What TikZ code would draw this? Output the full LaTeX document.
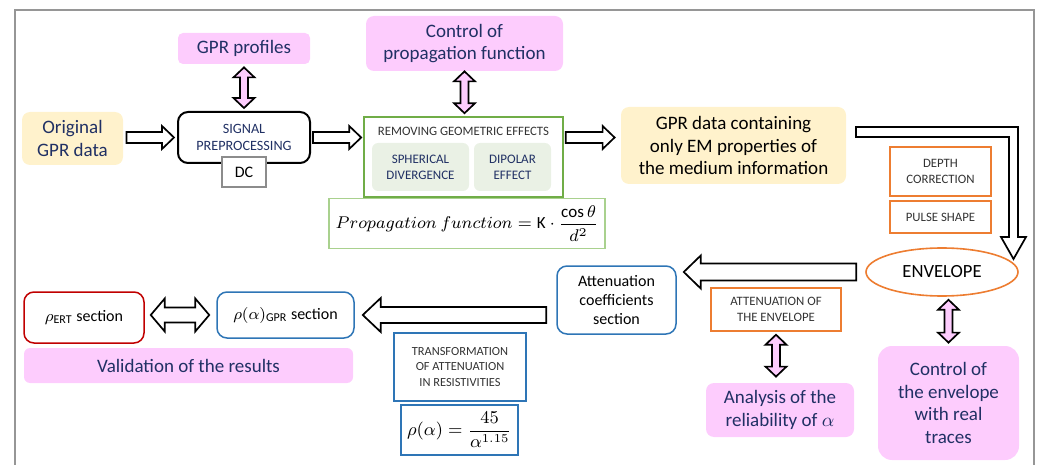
\documentclass[tikz,border=0pt]{standalone}
\usepackage{fix-cm}
\usepackage{amsmath}
\usepackage{fontspec}
\setmainfont{Carlito}
\usetikzlibrary{calc,shapes.geometric}

\definecolor{pinkfill}{RGB}{253,204,253}
\definecolor{sandfill}{RGB}{255,242,204}
\definecolor{navytext}{RGB}{32,48,100}
\definecolor{leafgreen}{RGB}{112,173,71}
\definecolor{palegreen}{RGB}{169,209,142}
\definecolor{mintfill}{RGB}{234,241,229}
\definecolor{tangerine}{RGB}{237,125,49}
\definecolor{steelblue}{RGB}{46,117,182}
\definecolor{darkred}{RGB}{192,0,0}
\definecolor{framegray}{RGB}{150,150,150}

\tikzset{
  big/.style={font=\fontsize{9.5}{11.3}\selectfont, align=center, inner sep=1pt},
  mid/.style={font=\fontsize{8}{9.5}\selectfont, align=center, inner sep=1pt},
  caps/.style={font=\fontsize{6.4}{8}\selectfont, align=center, inner sep=1pt, text=black!80},
  pinkbox/.style={big, fill=pinkfill, text=navytext, rounded corners=2.5pt},
  sandbox/.style={big, fill=sandfill, text=navytext, rounded corners=4pt},
  orangebox/.style={caps, draw=tangerine, line width=0.75pt, minimum width=50.5pt},
  bluebox/.style={mid, draw=steelblue, line width=0.75pt, rounded corners=5pt},
  % block arrows: shaft half width, head half width, head length
  hollow/.style n args={3}{draw=black, fill=white, line width=0.85pt, line join=miter,
    to path={let \p1=(\tikztostart), \p2=(\tikztotarget),
      \n1={atan2(\y2-\y1,\x2-\x1)} in
      ($(\p1)+({\n1+90}:#1)$) -- ($(\p2)+({\n1+180}:#3)+({\n1+90}:#1)$)
      -- ($(\p2)+({\n1+180}:#3)+({\n1+90}:#2)$) -- (\p2)
      -- ($(\p2)+({\n1+180}:#3)+({\n1-90}:#2)$)
      -- ($(\p2)+({\n1+180}:#3)+({\n1-90}:#1)$)
      -- ($(\p1)+({\n1-90}:#1)$) -- cycle}},
  hollowboth/.style n args={3}{draw=black, fill=white, line width=0.85pt, line join=miter,
    to path={let \p1=(\tikztostart), \p2=(\tikztotarget),
      \n1={atan2(\y2-\y1,\x2-\x1)} in
      (\p1) -- ($(\p1)+({\n1}:#3)+({\n1+90}:#2)$)
      -- ($(\p1)+({\n1}:#3)+({\n1+90}:#1)$)
      -- ($(\p2)+({\n1+180}:#3)+({\n1+90}:#1)$)
      -- ($(\p2)+({\n1+180}:#3)+({\n1+90}:#2)$) -- (\p2)
      -- ($(\p2)+({\n1+180}:#3)+({\n1-90}:#2)$)
      -- ($(\p2)+({\n1+180}:#3)+({\n1-90}:#1)$)
      -- ($(\p1)+({\n1}:#3)+({\n1-90}:#1)$)
      -- ($(\p1)+({\n1}:#3)+({\n1-90}:#2)$) -- cycle}},
}

\begin{document}
\begin{tikzpicture}[x=0.5pt,y=-0.5pt]
    \useasboundingbox (0,0) rectangle (1040,465);
    \draw[framegray,line width=0.8pt] (15,465) -- (15,10) -- (1034,10) -- (1034,465);

    % top row
    \node[sandbox,minimum width=50.5pt,minimum height=26.5pt] (orig) at (72.5,138.5) {Original\\GPR data};
    \node[draw=black,line width=1pt,rounded corners=5pt,minimum width=66pt,minimum height=25.5pt,
          font=\fontsize{7.1}{8.7}\selectfont,text=navytext,align=center] (sig) at (244,137.5) {SIGNAL\\PREPROCESSING};
    \node[draw=black!45,fill=white,line width=0.6pt,minimum width=22pt,minimum height=15pt,mid] (dc) at (244,172) {DC};
    \node[pinkbox,minimum width=66pt,minimum height=15.5pt] (prof) at (244,48.5) {GPR profiles};

    \node[pinkbox,rounded corners=4pt,minimum width=98.5pt,minimum height=27.5pt] (ctrlprop) at (464.5,43.5) {Control of\\propagation function};
    \node[draw=leafgreen,line width=0.8pt,minimum width=99.5pt,minimum height=40pt] (remv) at (463.5,157) {};
    \node[caps] (remvlbl) at (463.5,131) {REMOVING GEOMETRIC EFFECTS};
    \node[fill=mintfill,rounded corners=3pt,minimum width=48.5pt,minimum height=24pt,
          font=\fontsize{6.5}{8}\selectfont,text=navytext,align=center] (sph) at (420.5,167) {SPHERICAL\\DIVERGENCE};
    \node[fill=mintfill,rounded corners=3pt,minimum width=38.5pt,minimum height=24pt,
          font=\fontsize{6.5}{8}\selectfont,text=navytext,align=center] (dip) at (512.5,167) {DIPOLAR\\EFFECT};
    \node[draw=palegreen,line width=0.6pt,minimum width=135pt,minimum height=24.5pt,font=\fontsize{8.5}{10}\selectfont]
          (propf) at (467,223.5) {$Propagation\ function=\mathrm{K}\cdot\dfrac{\cos\theta}{d^2}$};

    \node[sandbox,text=black,minimum width=112.5pt,minimum height=38.5pt] (gprem) at (733.5,145.5)
          {GPR data containing\\only EM properties of\\the medium information};

    % right column
    \node[orangebox,minimum height=24.5pt] (depth) at (940.5,171.5) {DEPTH\\CORRECTION};
    \node[orangebox,minimum height=16pt] (pulse) at (940.5,217) {PULSE SHAPE};
    \node[ellipse,draw=tangerine,line width=0.8pt,minimum width=76pt,minimum height=24pt,inner sep=0pt,
          font=\fontsize{9.3}{11}\selectfont] (env) at (942,272) {ENVELOPE};
    \node[pinkbox,rounded corners=7pt,minimum width=70.5pt,minimum height=57pt] (ctrlenv) at (948.5,403)
          {Control of\\the envelope\\with real\\traces};

    % bottom row
    \node[bluebox,minimum width=59.5pt,minimum height=34pt] (attc) at (616.5,300) {Attenuation\\coefficients\\section};
    \node[orangebox,minimum width=65pt,minimum height=21.5pt] (attenv) at (776,309.5) {ATTENUATION OF\\THE ENVELOPE};
    \node[pinkbox,rounded corners=4pt,minimum width=74pt,minimum height=27pt] (analysis) at (780,410)
          {Analysis of the\\reliability of $\alpha$};

    \node[bluebox,minimum width=66pt,minimum height=34pt,font=\fontsize{6.2}{7.8}\selectfont,text=black!80,rounded corners=0pt]
          (transf) at (460,367) {TRANSFORMATION\\OF ATTENUATION\\IN RESISTIVITIES};
    \node[bluebox,minimum width=58.5pt,minimum height=25pt,rounded corners=0pt,font=\fontsize{9}{11}\selectfont]
          (rhof) at (459.5,430) {$\rho(\alpha)=\dfrac{45}{\alpha^{1.15}}$};

    \node[bluebox,minimum width=68.5pt,minimum height=23pt] (rgpr) at (285.5,315) {$\rho(\alpha)_{\text{GPR}}$ section};
    \node[mid,draw=darkred,line width=0.75pt,rounded corners=5pt,minimum width=60pt,minimum height=25.5pt]
          (ert) at (84,317.5) {$\rho_{\text{ERT}}$ section};
    \node[pinkbox,rounded corners=3pt,minimum width=164.5pt,minimum height=17.5pt] (valid) at (188.5,365.5)
          {Validation of the results};

    % block arrows
    \draw[hollow={2.75pt}{5.75pt}{6pt}] ([xshift=1.5pt]orig.east |- sig.west) to ([xshift=-1.5pt]sig.west);
    \draw[hollow={2.75pt}{5.75pt}{6pt}] ([xshift=1pt]sig.east) to ([xshift=-1pt]sig.east -| remv.west);
    \draw[hollow={2.75pt}{5.75pt}{6pt}] ([xshift=1pt]sig.east -| remv.east) to ([xshift=-3pt]sig.east -| gprem.west);
    \draw[black,fill=white,line width=0.85pt,line join=miter]
        (856,127) -- (1018,127) -- (1018,237) -- (1026,237) -- (1013.5,259)
        -- (1001,237) -- (1009,237) -- (1009,137) -- (856,137) -- cycle;
    \draw[hollow={4.25pt}{8.25pt}{8.5pt}] ([xshift=-4.5pt]env.west) to ([xshift=3.5pt]attc.east |- env.west);
    \draw[hollow={4pt}{8.5pt}{9pt}] ([xshift=-5pt]attc.west |- rgpr.east) to ([xshift=4pt]rgpr.east);
    \draw[hollowboth={3.75pt}{8.25pt}{7pt}] ([xshift=3pt]ert.east |- rgpr.west) to ([xshift=-3.5pt]rgpr.west);

    % pink links
    \draw[hollowboth={2pt}{5.25pt}{5pt},fill=pinkfill] ([yshift=-1.5pt]prof.south) to ([yshift=1.5pt]prof.south |- sig.north);
    \draw[hollowboth={2pt}{5.25pt}{5pt},fill=pinkfill] (ctrlprop.south) to ([yshift=1.5pt]ctrlprop.south |- remv.north);
    \draw[hollowboth={2pt}{5.25pt}{5pt},fill=pinkfill] ([yshift=-1.5pt]attenv.south) to ([yshift=3pt]attenv.south |- analysis.north);
    \draw[hollowboth={2pt}{5.25pt}{5pt},fill=pinkfill] ([yshift=-1.5pt]ctrlenv.north |- env.south) to ([yshift=1.5pt]ctrlenv.north);
\end{tikzpicture}
\end{document}
